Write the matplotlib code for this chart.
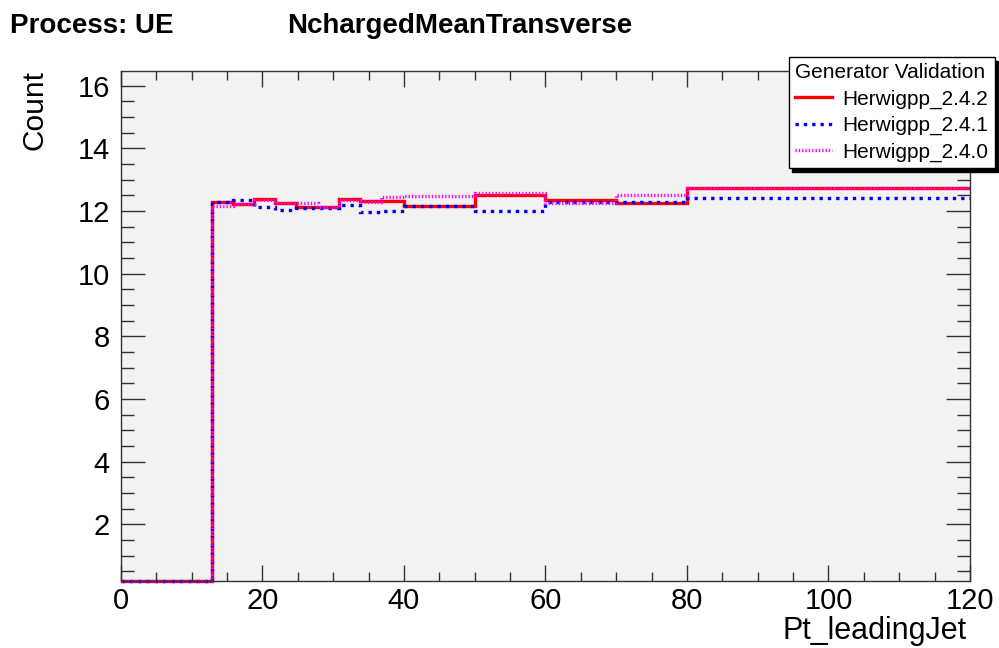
import matplotlib
matplotlib.use("Agg")
import matplotlib.pyplot as plt
from matplotlib.lines import Line2D
from matplotlib.ticker import MultipleLocator
import numpy as np

plt.rcParams['font.family'] = ['Liberation Sans', 'DejaVu Sans']

# histogram bin edges in Pt_leadingJet
pt_edges = [0, 12.8, 15.8, 18.8, 21.8, 24.8, 27.8, 30.8, 33.8, 36.8, 40, 50, 60, 70, 80, 120]

# mean charged multiplicity, transverse region, per bin
herwig_242 = [0, 12.29, 12.21, 12.37, 12.27, 12.12, 12.12, 12.37, 12.31, 12.31, 12.15, 12.51, 12.35, 12.25, 12.73]
herwig_241 = [0, 12.29, 12.34, 12.14, 12.04, 12.09, 12.09, 12.19, 11.96, 12.00, 12.17, 12.00, 12.30, 12.30, 12.41]
herwig_240 = [0, 12.17, 12.22, 12.36, 12.27, 12.25, 12.12, 12.36, 12.30, 12.46, 12.49, 12.57, 12.27, 12.51, 12.73]

versions = ["Herwigpp_2.4.2", "Herwigpp_2.4.1", "Herwigpp_2.4.0"]
series = [herwig_242, herwig_241, herwig_240]
styles = [
    dict(color="#ff0000", linestyle="-"),
    dict(color="#0000ff", linestyle=(0, (1, 1.5))),
    dict(color="#ff00ff", linestyle=(0, (0.4, 0.6))),
]

y_lo, y_hi = 0.19, 16.47

fig = plt.figure(figsize=(9.99, 6.48), dpi=100)
ax = fig.add_axes([0.12112, 0.10340, 0.84985, 0.78704])
ax.set_facecolor("#f2f2f2")

handles = []
for vals, lab, st in zip(series, versions, styles):
    shown = np.maximum(vals, y_lo)  # empty bins sit on the frame bottom
    ax.stairs(shown, pt_edges, baseline=None, lw=2.4, clip_on=False, **st)
    handles.append(Line2D([], [], lw=2.4, label=lab, **st))

ax.set_xlim(0, 120)
ax.set_ylim(y_lo, y_hi)
ax.set_xticks(np.arange(0, 121, 20))
ax.set_yticks(np.arange(2, 17, 2))
ax.xaxis.set_minor_locator(MultipleLocator(5))
ax.yaxis.set_minor_locator(MultipleLocator(0.5))

ax.tick_params(which="both", direction="in", top=True, right=True,
               labelsize=21, width=1, color="#333333")
ax.tick_params(axis="x", which="major", length=11.5, pad=4)
ax.tick_params(axis="x", which="minor", length=6.2)
ax.tick_params(axis="y", which="major", length=17.3, pad=8)
ax.tick_params(axis="y", which="minor", length=9.4)
for s in ax.spines.values():
    s.set_color("#333333")
    s.set_linewidth(1)

fig.text(0.0105, 1 - 33 / 648, "Process: UE", fontsize=20, fontweight="bold",
         ha="left", va="baseline")
fig.text(287 / 999, 1 - 33 / 648, "NchargedMeanTransverse", fontsize=20,
         fontweight="bold", ha="left", va="baseline")
fig.text(967 / 999, 1 - 639 / 648, "Pt_leadingJet", fontsize=22,
         ha="right", va="baseline")
fig.text(49 / 999, 1 - 70 / 648, "Count", fontsize=21.5, rotation=90,
         ha="right", va="top")

leg = fig.legend(handles=handles, title="Generator Validation",
                 loc="upper right", bbox_to_anchor=(995 / 999, 1 - 57 / 648),
                 fontsize=15, title_fontsize=15, alignment="left",
                 frameon=True, fancybox=False, framealpha=1, edgecolor="black",
                 borderpad=0.3, labelspacing=0.35, handlelength=1.8,
                 handletextpad=0.5, borderaxespad=0,
                 shadow={"ox": 2.5, "oy": -3, "color": "black", "alpha": 1})
leg.get_frame().set_linewidth(1)

fig.savefig("out.png", dpi=100)
